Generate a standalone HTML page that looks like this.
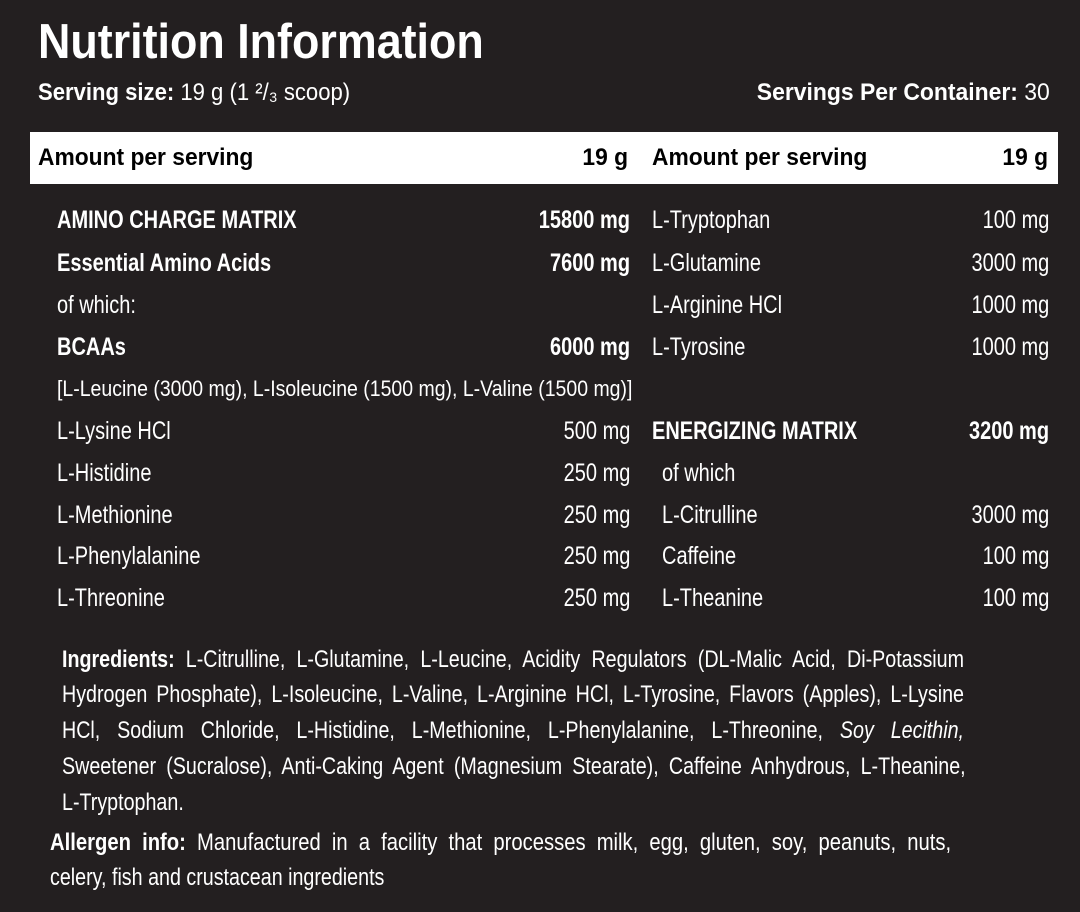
<!DOCTYPE html>
<html><head><meta charset="utf-8"><style>
html,body{margin:0;padding:0}
body{width:1080px;height:912px;background:#231f20;position:relative;overflow:hidden;color:#fff;font-family:"Liberation Sans Narrow","Liberation Sans",sans-serif;}
.a{position:absolute;white-space:nowrap;line-height:1;transform-origin:left center;}
.b{font-weight:bold}
.r{text-align:right;transform-origin:right center;}
.t{font-size:25px;transform:scaleX(0.8)}
.h{font-size:24px;transform:scaleX(0.95);color:#000;font-weight:bold}
.bar{position:absolute;left:30px;top:132px;width:1028px;height:52px;background:#fff;}
.j{position:absolute;white-space:nowrap;font-size:24px;line-height:1;text-align:justify;text-align-last:justify;transform:scaleX(0.82);transform-origin:left center;width:1100px}
</style></head><body>
<div class="a b" style="left:38px;top:18px;font-size:49px;transform:scaleX(0.915)">Nutrition Information</div>
<div class="a" style="left:38px;top:81px;font-size:24px;transform:scaleX(0.92)"><span class="b">Serving size:</span> 19 g (1 ²/₃ scoop)</div>
<div class="a r" style="right:30px;top:81px;font-size:24px;transform:scaleX(0.955)"><span class="b">Servings Per Container:</span> 30</div>
<div class="bar"></div>
<div class="a h" style="left:38px;top:146px;">Amount per serving</div>
<div class="a h r" style="right:452px;top:146px;">19 g</div>
<div class="a h" style="left:652px;top:146px;">Amount per serving</div>
<div class="a h r" style="right:32px;top:146px;">19 g</div>

<div class="a t b" style="left:57px;top:208px">AMINO CHARGE MATRIX</div><div class="a t b r" style="right:450px;top:208px">15800 mg</div>
<div class="a t b" style="left:57px;top:251px">Essential Amino Acids</div><div class="a t b r" style="right:450px;top:251px">7600 mg</div>
<div class="a t" style="left:57px;top:293px">of which:</div>
<div class="a t b" style="left:57px;top:335px">BCAAs</div><div class="a t b r" style="right:450px;top:335px">6000 mg</div>
<div class="a" style="left:57px;top:378px;font-size:22px;transform:scaleX(0.885)">[L-Leucine (3000 mg), L-Isoleucine (1500 mg), L-Valine (1500 mg)]</div>
<div class="a t" style="left:57px;top:419px">L-Lysine HCl</div><div class="a t r" style="right:450px;top:419px">500 mg</div>
<div class="a t" style="left:57px;top:461px">L-Histidine</div><div class="a t r" style="right:450px;top:461px">250 mg</div>
<div class="a t" style="left:57px;top:503px">L-Methionine</div><div class="a t r" style="right:450px;top:503px">250 mg</div>
<div class="a t" style="left:57px;top:544px">L-Phenylalanine</div><div class="a t r" style="right:450px;top:544px">250 mg</div>
<div class="a t" style="left:57px;top:586px">L-Threonine</div><div class="a t r" style="right:450px;top:586px">250 mg</div>

<div class="a t" style="left:652px;top:208px">L-Tryptophan</div><div class="a t r" style="right:31px;top:208px">100 mg</div>
<div class="a t" style="left:652px;top:251px">L-Glutamine</div><div class="a t r" style="right:31px;top:251px">3000 mg</div>
<div class="a t" style="left:652px;top:293px">L-Arginine HCl</div><div class="a t r" style="right:31px;top:293px">1000 mg</div>
<div class="a t" style="left:652px;top:335px">L-Tyrosine</div><div class="a t r" style="right:31px;top:335px">1000 mg</div>
<div class="a t b" style="left:652px;top:419px">ENERGIZING MATRIX</div><div class="a t b r" style="right:31px;top:419px">3200 mg</div>
<div class="a t" style="left:662px;top:461px">of which</div>
<div class="a t" style="left:662px;top:503px">L-Citrulline</div><div class="a t r" style="right:31px;top:503px">3000 mg</div>
<div class="a t" style="left:662px;top:544px">Caffeine</div><div class="a t r" style="right:31px;top:544px">100 mg</div>
<div class="a t" style="left:662px;top:586px">L-Theanine</div><div class="a t r" style="right:31px;top:586px">100 mg</div>

<div class="j" style="left:62px;top:648px;"><b>Ingredients:</b> L-Citrulline, L-Glutamine, L-Leucine, Acidity Regulators (DL-Malic Acid, Di-Potassium</div>
<div class="j" style="left:62px;top:683px;">Hydrogen Phosphate), L-Isoleucine, L-Valine, L-Arginine HCl, L-Tyrosine, Flavors (Apples), L-Lysine</div>
<div class="j" style="left:62px;top:719px;">HCl, Sodium Chloride, L-Histidine, L-Methionine, L-Phenylalanine, L-Threonine, <i>Soy Lecithin,</i></div>
<div class="j" style="left:62px;top:755px;width:1102px">Sweetener (Sucralose), Anti-Caking Agent (Magnesium Stearate), Caffeine Anhydrous, L-Theanine,</div>
<div class="a" style="left:62px;top:791px;font-size:24px;transform:scaleX(0.82)">L-Tryptophan.</div>
<div class="j" style="left:50px;top:831px;width:1069px;transform:scaleX(0.843)"><b>Allergen info:</b> Manufactured in a facility that processes milk, egg, gluten, soy, peanuts, nuts,</div>
<div class="a" style="left:50px;top:866px;font-size:24px;transform:scaleX(0.82)">celery, fish and crustacean ingredients</div>
</body></html>
